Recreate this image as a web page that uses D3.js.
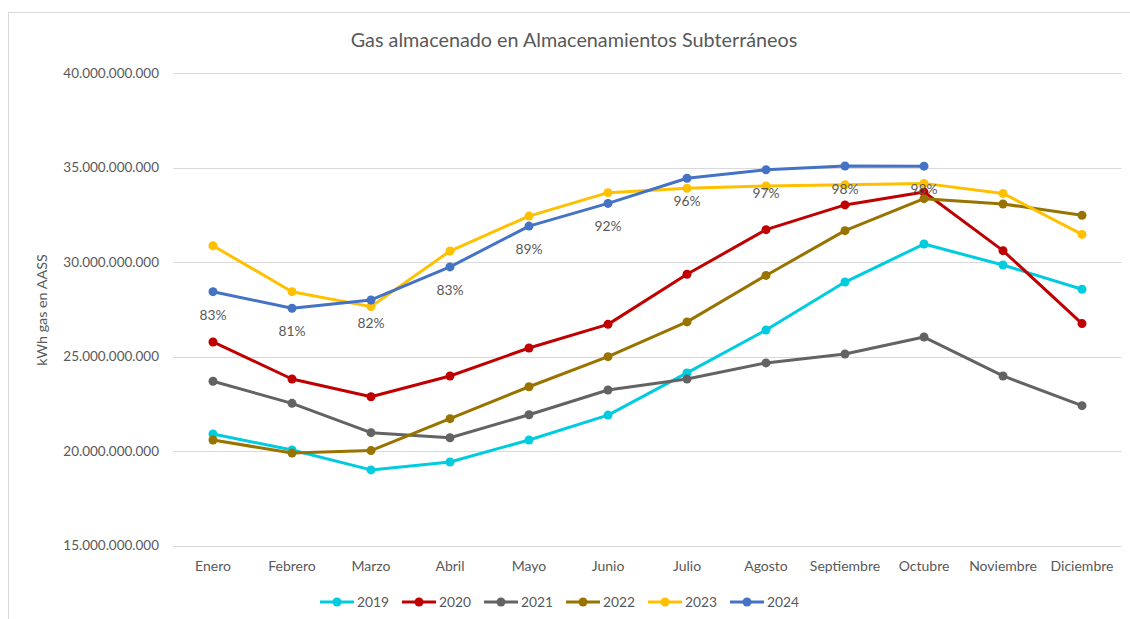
<!DOCTYPE html>
<html>
  <head>
    <meta charset="utf-8">
    <title>Gas almacenado</title>
    <script src="https://d3js.org/d3.v7.min.js"></script>
    <style>
      body { margin: 0; background: #fff; }
      text { font-family: Lato, "Open Sans", sans-serif; fill: #595959; }
    </style>
  </head>
  <body>
    <script>
      // months on the x axis
      var months = ["Enero", "Febrero", "Marzo", "Abril", "Mayo", "Junio", "Julio",
                    "Agosto", "Septiembre", "Octubre", "Noviembre", "Diciembre"];

      // gas stored, in thousand millions of kWh
      var s2019 = [20.90, 20.05, 19.00, 19.42, 20.58, 21.90, 24.13, 26.40, 28.94, 30.95, 29.84, 28.56];
      var s2020 = [25.77, 23.81, 22.87, 23.97, 25.45, 26.70, 29.35, 31.71, 33.02, 33.70, 30.60, 26.74];
      var s2021 = [23.69, 22.52, 20.97, 20.70, 21.92, 23.23, 23.81, 24.66, 25.13, 26.03, 23.97, 22.40];
      var s2022 = [20.58, 19.89, 20.02, 21.71, 23.40, 24.99, 26.83, 29.29, 31.66, 33.35, 33.07, 32.47];
      var s2023 = [30.86, 28.43, 27.64, 30.58, 32.43, 33.67, 33.90, 34.02, 34.09, 34.16, 33.63, 31.46];
      var s2024 = [28.43, 27.55, 27.99, 29.74, 31.90, 33.10, 34.43, 34.88, 35.08, 35.07, null, null];

      // fill percentage labels of 2024
      var pct2024 = ["83%", "81%", "82%", "83%", "89%", "92%", "96%", "97%", "98%", "98%"];

      var years = ["2019", "2020", "2021", "2022", "2023", "2024"];
      var colors = ["#00CCE0", "#C00000", "#636363", "#997300", "#FFC000", "#4472C4"];
      var yTicks = [15, 20, 25, 30, 35, 40];

      var series = [s2019, s2020, s2021, s2022, s2023, s2024];

      var width = 1130, height = 619;

      var svg = d3.select("body").append("svg")
          .attr("width", width)
          .attr("height", height);

      // chart area border
      svg.append("rect")
          .attr("x", 8.5).attr("y", 12.5)
          .attr("width", 1140).attr("height", 640)
          .attr("fill", "none")
          .attr("stroke", "#d9d9d9");

      var x = d3.scaleBand().domain(months).range([173.5, 1121.5]);
      var y = d3.scaleLinear().domain([15, 40]).range([545.5, 73]);

      svg.append("text")
          .attr("x", 574).attr("y", 47)
          .attr("text-anchor", "middle")
          .style("font-size", "19.8px")
          .text("Gas almacenado en Almacenamientos Subterráneos");

      // gridlines
      svg.append("g").selectAll("line")
          .data(yTicks).enter().append("line")
          .attr("x1", 173.5).attr("x2", 1121.5)
          .attr("y1", function(d) { return Math.round(y(d)) + 0.5; })
          .attr("y2", function(d) { return Math.round(y(d)) + 0.5; })
          .attr("stroke", "#d9d9d9")
          .attr("stroke-width", 1);

      var fmt = function(d) {
        return d3.format(",")(d * 1e9).replace(/,/g, ".");
      };

      var yAxis = svg.append("g")
          .attr("transform", "translate(159,0)")
          .call(d3.axisLeft(y).tickValues(yTicks).tickFormat(fmt).tickSize(0).tickPadding(0));
      yAxis.select(".domain").remove();
      yAxis.selectAll("text")
          .style("font-size", "13.5px")
          .style("font-family", "Lato, sans-serif")
          .attr("fill", "#595959");

      var xAxis = svg.append("g")
          .attr("transform", "translate(0,561)")
          .call(d3.axisBottom(x).tickSize(0).tickPadding(0));
      xAxis.select(".domain").remove();
      xAxis.selectAll("text")
          .style("font-size", "14px")
          .style("font-family", "Lato, sans-serif")
          .attr("fill", "#595959");

      svg.append("text")
          .attr("transform", "translate(47,310) rotate(-90)")
          .attr("text-anchor", "middle")
          .style("font-size", "14.3px")
          .text("kWh gas en AASS");

      var line = d3.line()
          .defined(function(d) { return d != null; })
          .x(function(d, i) { return x(months[i]) + x.bandwidth() / 2; })
          .y(function(d) { return y(d); });

      series.forEach(function(s, k) {
        var g = svg.append("g");
        g.append("path")
            .datum(s)
            .attr("d", line)
            .attr("fill", "none")
            .attr("stroke", colors[k])
            .attr("stroke-width", 3)
            .attr("stroke-linejoin", "round");
        g.selectAll("circle")
            .data(s.map(function(v, i) { return {v: v, i: i}; })
                   .filter(function(d) { return d.v != null; }))
            .enter().append("circle")
            .attr("cx", function(d) { return x(months[d.i]) + x.bandwidth() / 2; })
            .attr("cy", function(d) { return y(d.v); })
            .attr("r", 4.5)
            .attr("fill", colors[k]);
      });

      // data labels for 2024
      svg.append("g").selectAll("text")
          .data(pct2024).enter().append("text")
          .attr("x", function(d, i) { return x(months[i]) + x.bandwidth() / 2; })
          .attr("y", function(d, i) { return y(s2024[i]) + 28; })
          .attr("text-anchor", "middle")
          .style("font-size", "13.8px")
          .text(function(d) { return d; });

      // legend
      var legend = svg.append("g").attr("transform", "translate(320,602)");
      var item = legend.selectAll("g")
          .data(years).enter().append("g")
          .attr("transform", function(d, i) { return "translate(" + (i * 82) + ",0)"; });
      item.append("line")
          .attr("x1", 0).attr("x2", 34)
          .attr("stroke", function(d, i) { return colors[i]; })
          .attr("stroke-width", 3);
      item.append("circle")
          .attr("cx", 17).attr("r", 4.5)
          .attr("fill", function(d, i) { return colors[i]; });
      item.append("text")
          .attr("x", 37).attr("y", 5)
          .style("font-size", "13.8px")
          .text(function(d) { return d; });
    </script>
  </body>
</html>
